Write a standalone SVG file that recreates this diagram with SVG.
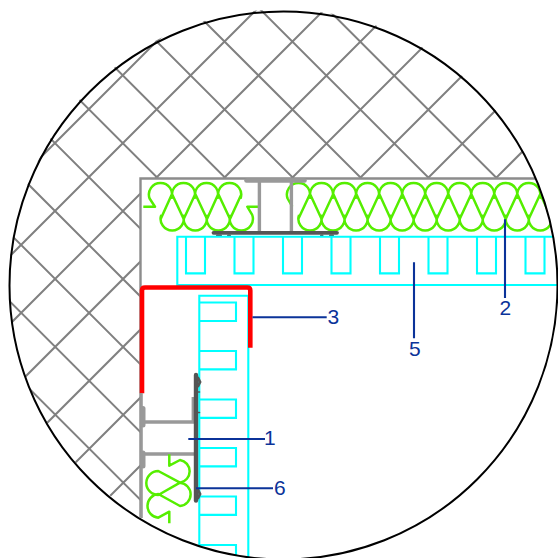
<svg xmlns="http://www.w3.org/2000/svg" width="558" height="558" viewBox="0 0 558 558">
<style>
.hatch{fill:none;stroke:#808080;stroke-width:2}
.wall{fill:none;stroke:#8c8c8c;stroke-width:2.4}
.steel{fill:none;stroke:#999;stroke-width:3.4}
.dark{fill:none;stroke:#555;stroke-linecap:round}
.green{fill:none;stroke:#55ee00;stroke-width:2.5;stroke-linejoin:round}
.cyan{fill:none;stroke:#00ffff;stroke-width:2.1}
.red{fill:none;stroke:#ff0000;stroke-width:4.6;stroke-linejoin:round}
.lead{fill:none;stroke:#0b3399;stroke-width:2.1}
.lbl{font-family:"Liberation Sans",Arial,sans-serif;font-size:21px;fill:#0b3399}
</style>
<defs>
<clipPath id="disc"><circle cx="283.5" cy="285.5" r="274"/></clipPath>
<clipPath id="hatchArea"><path d="M140,517 L140,178 L536,178 A274,274 0 1 0 140,517 Z"/></clipPath>
</defs>
<rect width="558" height="558" fill="#fff"/>
<g id="hatching" clip-path="url(#hatchArea)">
<path class="hatch" d="M0,198 L198,0 M0,266 L266,0 M0,334 L334,0 M0,402 L402,0 M0,470 L470,0 M0,538 L538,0 M0,606 L558,48 M0,674 L558,116
M0,359.4 L198.6,558 M0,291.6 L266.4,558 M0,223.8 L334.2,558 M0,156 L402,558 M0,88.2 L469.8,558 M0,20.4 L537.6,558 M47.4,0 L558,510.6 M115.2,0 L558,442.8 M183,0 L558,375 M250.8,0 L558,307.2 M318.6,0 L558,239.4"/>
</g>
<g id="wall">
<path class="wall" d="M140.5,517 V178.5 H536"/>
</g>
<g id="insulation-top" clip-path="url(#disc)">
<path class="green" d="M143.3,206.7 H155 L149.6,198.5 a11.6,11.6 0 1 1 21.8,0 m1.23,0 a11.6,11.6 0 1 1 21.8,0 m1.23,0 a11.6,11.6 0 1 1 21.8,0 m1.23,0 a11.6,11.6 0 1 1 21.8,0
M161.3,214.9 a11.6,11.6 0 1 0 21.8,0 m1.23,0 a11.6,11.6 0 1 0 21.8,0 m1.23,0 a11.6,11.6 0 1 0 21.8,0 m1.23,0 a11.6,11.6 0 1 0 21.8,0 L247.3,206.7 H259.3
M160.7,219 L172,194 L183.7,219 L195.3,194 L207,219 L218.3,194 L230,219 L241.5,194"/>
<path class="green" d="M292.3,206.7 L287.6,198.5 a11.6,11.6 0 1 1 21.8,0 m1.23,0 a11.6,11.6 0 1 1 21.8,0 m1.23,0 a11.6,11.6 0 1 1 21.8,0 m1.23,0 a11.6,11.6 0 1 1 21.8,0 m1.23,0 a11.6,11.6 0 1 1 21.8,0 m1.23,0 a11.6,11.6 0 1 1 21.8,0 m1.23,0 a11.6,11.6 0 1 1 21.8,0 m1.23,0 a11.6,11.6 0 1 1 21.8,0 m1.23,0 a11.6,11.6 0 1 1 21.8,0 m1.23,0 a11.6,11.6 0 1 1 21.8,0 m1.23,0 a11.6,11.6 0 1 1 21.8,0
M299.1,214.9 a11.6,11.6 0 1 0 21.8,0 m1.23,0 a11.6,11.6 0 1 0 21.8,0 m1.23,0 a11.6,11.6 0 1 0 21.8,0 m1.23,0 a11.6,11.6 0 1 0 21.8,0 m1.23,0 a11.6,11.6 0 1 0 21.8,0 m1.23,0 a11.6,11.6 0 1 0 21.8,0 m1.23,0 a11.6,11.6 0 1 0 21.8,0 m1.23,0 a11.6,11.6 0 1 0 21.8,0 m1.23,0 a11.6,11.6 0 1 0 21.8,0 m1.23,0 a11.6,11.6 0 1 0 21.8,0 m1.23,0 a11.6,11.6 0 1 0 21.8,0
M298.3,219 L310,194 L321.6,219 L333.3,194 L344.6,219 L356.3,194 L367.7,219 L379.3,194 L390.7,219 L402.3,194 L413.7,219 L425.3,194 L436.7,219 L448.3,194 L459.7,219 L471.3,194 L482.7,219 L494.3,194 L505.7,219 L517.3,194 L528.7,219 L540.3,194 L551.7,219"/>
</g>
<g id="profile-top">
<path class="steel" d="M259.4,180 V232 M291.4,180 V232"/>
<path class="steel" d="M246.5,180.5 H304.5" stroke-linecap="round" style="stroke-width:4.6"/>
<path class="dark" d="M213.5,232.8 H337" style="stroke-width:3.8"/>
<path class="dark" d="M217,235.6 H221 M228,235.6 H230 M321,235.6 H322.5 M330,235.6 H333" style="stroke-width:2"/>
</g>
<g id="panel-top" clip-path="url(#disc)">
<path class="cyan" d="M558,236.8 H177.3 V285 H558"/>
<path class="cyan" d="M186,237 V273.4 H205 V237 M234.5,237 V273.4 H253.5 V237 M283,237 V273.4 H302 V237 M331.5,237 V273.4 H350.5 V237 M380,237 V273.4 H399 V237 M428.5,237 V273.4 H447.5 V237 M477,237 V273.4 H496 V237 M525.5,237 V273.4 H544.5 V237"/>
</g>
<g id="panel-side" clip-path="url(#disc)">
<path class="cyan" d="M199.3,558 V295.8 H248.3 V558"/>
<path class="cyan" d="M199.3,302.5 H236 V321 H199.3 M199.3,351 H236 V369.4 H199.3 M199.3,399.5 H236 V417.9 H199.3 M199.3,448 H236 V466.4 H199.3 M199.3,496.5 H236 V514.9 H199.3 M199.3,545 H236 V563"/>
</g>
<g id="trim">
<path class="red" d="M142,393.3 V290.5 Q142,287.5 145,287.5 H247.3 Q250.3,287.5 250.3,290.5 V347.7"/>
</g>
<g id="profile-side">
<path class="steel" d="M141.5,393 V518" style="stroke-width:2.6"/>
<path class="steel" d="M143,408.5 V425 M143,453 V466" style="stroke-width:5;stroke-linecap:round"/>
<path class="steel" d="M143,422 H194 M143,454 H194 M193.3,397 V422"/>
<path class="dark" d="M196,375 V500.5" style="stroke-width:4.4"/>
<path class="dark" d="M198,378 L200,382 L198,386 M198,490 L200,494 L198,498" style="stroke-width:2.8"/>
<path class="dark" d="M198,392 H199.5 M198,412.5 H199.5" style="stroke-width:1.6"/>
</g>
<g id="insulation-side">
<path class="green" d="M169.3,454.3 V465.7 L180,460 A11.5,11.5 0 0 1 180,482.7 L158.3,471 A12,12 0 0 0 158.3,495 L180,482.7 A11.7,11.7 0 0 1 180,506 L158.3,494 A11.9,11.9 0 0 0 158.3,517.7 L169.3,511.7 V523.3"/>
</g>
<g id="outline">
<circle cx="283.5" cy="285.5" r="274" fill="none" stroke="#000" stroke-width="2"/>
</g>
<g id="connectors">
<path class="lead" d="M252.5,317.3 H326.7 M414,262.3 V338.3 M505,219.3 V298 M188.3,439 H265 M196,488.3 H273"/>
</g>
<g id="labels">
<text class="lbl" x="327.5" y="323.5">3</text>
<text class="lbl" x="409" y="355.5">5</text>
<text class="lbl" x="499.5" y="314.5">2</text>
<text class="lbl" x="264" y="445">1</text>
<text class="lbl" x="274" y="495">6</text>
</g>
</svg>
